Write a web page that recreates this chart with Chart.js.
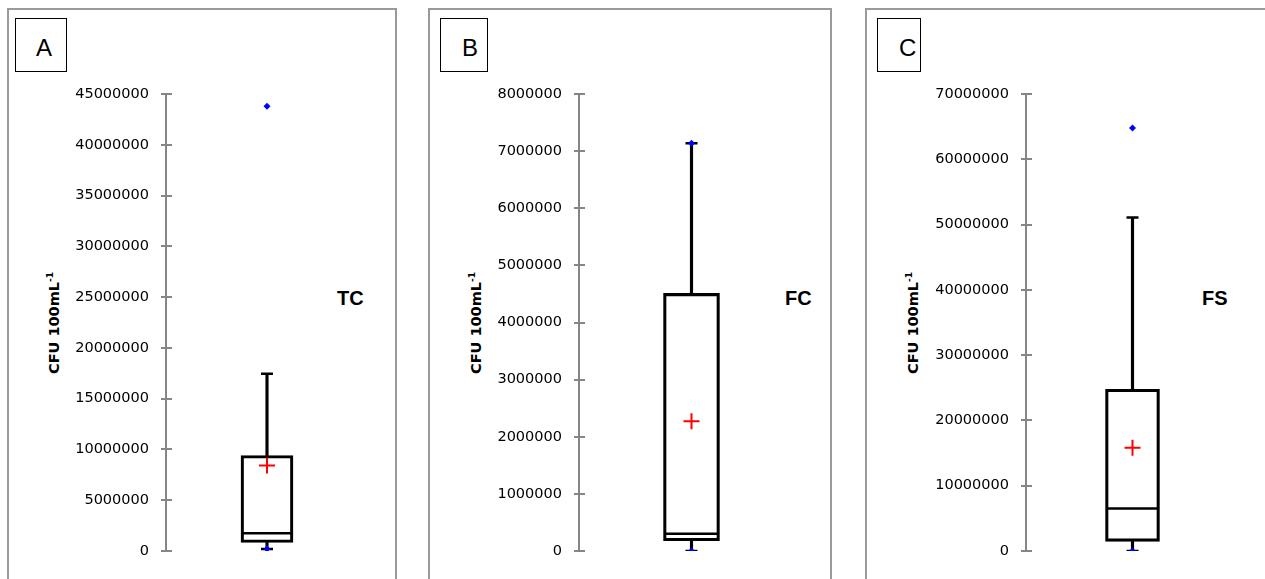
<!DOCTYPE html>
<html>
<head>
<meta charset="utf-8">
<script src="https://cdn.jsdelivr.net/npm/chart.js@4/dist/chart.umd.min.js"></script>
<style>
  html, body { margin:0; padding:0; background:#fff; width:1265px; height:579px; overflow:hidden; }
  .panel { position:absolute; border:2px solid #9a9a9a; box-sizing:border-box; height:700px; top:8px; }
  .letterbox { position:absolute; border:1.5px solid #000; box-sizing:border-box; height:54px; top:18px; }
  .letter { position:absolute; font-family:"Liberation Sans", Arial, sans-serif; font-size:24px; color:#000; line-height:1; }
  .tag { position:absolute; font-family:"Liberation Sans", Arial, sans-serif; font-weight:bold; font-size:20px; color:#000; line-height:1; }
  .ytitle { position:absolute; font-family:"DejaVu Sans", sans-serif; font-weight:bold; font-size:14.5px; color:#000; white-space:nowrap; line-height:1; transform:translate(-50%,-50%) rotate(-90deg); }
  .ytitle sup { font-size:9px; vertical-align:6px; }
  canvas { position:absolute; top:0; }
</style>
</head>
<body>
<div class="panel" style="left:7px;width:390px;"></div>
<div class="panel" style="left:428px;width:404px;"></div>
<div class="panel" style="left:865px;width:500px;"></div>

<div class="letterbox" style="left:15px;width:52px;"></div>
<div class="letterbox" style="left:440px;width:48px;"></div>
<div class="letterbox" style="left:877px;width:44px;"></div>
<div class="letter" style="left:36px;top:36px;">A</div>
<div class="letter" style="left:462px;top:36px;">B</div>
<div class="letter" style="left:899px;top:36px;">C</div>

<div class="tag" style="left:337px;top:288px;">TC</div>
<div class="tag" style="left:785px;top:288px;">FC</div>
<div class="tag" style="left:1202px;top:288px;">FS</div>

<div class="ytitle" style="left:54px;top:323px;">CFU 100mL<sup>-1</sup></div>
<div class="ytitle" style="left:476px;top:323px;">CFU 100mL<sup>-1</sup></div>
<div class="ytitle" style="left:913px;top:323px;">CFU 100mL<sup>-1</sup></div>

<canvas id="cA" width="360" height="579" style="left:8px;"></canvas>
<canvas id="cB" width="375" height="579" style="left:429px;"></canvas>
<canvas id="cC" width="373" height="579" style="left:866px;"></canvas>

<script>
// ---- data ----
const categories   = ['TC', 'FC', 'FS'];
const whiskerLow   = [0.2e6, 0, 0];
const q1Values     = [0.84e6, 0.18e6, 1.47e6];
const medianValues = [1.75e6, 0.30e6, 6.5e6];
const q3Values     = [9.4e6, 4.51e6, 24.77e6];
const whiskerHigh  = [17.45e6, 7.14e6, 51.1e6];
const meanValues   = [8.43e6, 2.27e6, 15.8e6];
const minValues    = [0.2e6, 0, 0];
const maxValues    = [43.8e6, 7.14e6, 64.8e6];
const axisMax      = [45000000, 8000000, 70000000];
const axisStep     = [5000000, 1000000, 10000000];

// ---- layout (per panel) ----
const canvasIds   = ['cA', 'cB', 'cC'];
const axisWidth   = [158, 150, 160];
const boxWidth    = [52, 56, 54];

const AXIS_GRAY = '#868686';

const crossTicks = {
  id: 'crossTicks',
  afterDraw(chart) {
    const s = chart.scales.y;
    const ctx = chart.ctx;
    const x = chart.chartArea.left;
    ctx.save();
    ctx.strokeStyle = AXIS_GRAY;
    ctx.lineWidth = 2;
    s.ticks.forEach(t => {
      const y = Math.round(s.getPixelForValue(t.value));
      ctx.beginPath();
      ctx.moveTo(x - 5, y);
      ctx.lineTo(x + 6, y);
      ctx.stroke();
    });
    ctx.restore();
  }
};

categories.forEach((cat, i) => {
  const bw = boxWidth[i];
  new Chart(document.getElementById(canvasIds[i]), {
    type: 'bar',
    data: {
      labels: [cat],
      datasets: [
        { type: 'bar', label: 'upper whisker', data: [[q3Values[i], whiskerHigh[i]]],
          backgroundColor: '#000', borderWidth: 0, barThickness: 2.5, grouped: false, order: 5 },
        { type: 'bar', label: 'lower whisker', data: [[whiskerLow[i], q1Values[i]]],
          backgroundColor: '#000', borderWidth: 0, barThickness: 2.5, grouped: false, order: 5 },
        { type: 'bar', label: 'box', data: [[q1Values[i], q3Values[i]]],
          backgroundColor: 'rgba(255,255,255,0)', borderColor: '#000', borderWidth: 2.5,
          borderSkipped: false, barThickness: bw, grouped: false, order: 4 },
        { type: 'line', label: 'caps', data: [whiskerHigh[i]], showLine: false,
          pointStyle: 'line', pointRadius: 6, pointBorderWidth: 2.5, pointBorderColor: '#000', order: 3 },
        { type: 'line', label: 'capsLow', data: [whiskerLow[i]], showLine: false,
          pointStyle: 'line', pointRadius: 6, pointBorderWidth: 2.5, pointBorderColor: '#000', order: 3 },
        { type: 'line', label: 'median', data: [medianValues[i]], showLine: false,
          pointStyle: 'line', pointRadius: bw / 2 - 1, pointBorderWidth: 2.5, pointBorderColor: '#000', order: 3 },
        { type: 'line', label: 'min', data: [minValues[i]], showLine: false,
          pointStyle: 'rectRot', pointRadius: 3.5, pointBackgroundColor: '#0000ff', pointBorderColor: '#0000ff', pointBorderWidth: 0, order: 2 },
        { type: 'line', label: 'max', data: [maxValues[i]], showLine: false,
          pointStyle: 'rectRot', pointRadius: 3.5, pointBackgroundColor: '#0000ff', pointBorderColor: '#0000ff', pointBorderWidth: 0, order: 2 },
        { type: 'line', label: 'mean', data: [meanValues[i]], showLine: false,
          pointStyle: 'cross', pointRadius: 8, pointBorderWidth: 2, pointBorderColor: '#ff0000', order: 1 }
      ]
    },
    options: {
      responsive: false,
      animation: false,
      events: [],
      layout: { autoPadding: false, padding: { top: 94, bottom: 28, left: 0, right: 0 } },
      plugins: { legend: { display: false }, tooltip: { enabled: false }, title: { display: false } },
      scales: {
        x: { display: false, offset: true },
        y: {
          min: 0, max: axisMax[i],
          afterFit(scale) { scale.width = axisWidth[i]; },
          grid: { display: false, drawTicks: false },
          border: { display: true, color: AXIS_GRAY, width: 2 },
          ticks: {
            stepSize: axisStep[i], padding: 17, color: '#000',
            font: { family: 'DejaVu Sans', size: 14.5 },
            callback: v => String(v)
          }
        }
      }
    },
    plugins: [crossTicks]
  });
});
</script>
</body>
</html>
